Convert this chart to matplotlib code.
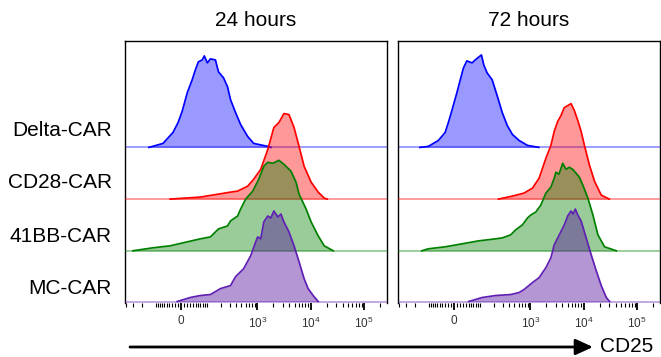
import matplotlib
matplotlib.use("Agg")
import matplotlib.pyplot as plt
from matplotlib.patches import FancyArrowPatch

plt.rcParams['font.family'] = ['Liberation Sans', 'DejaVu Sans']
plt.rcParams['mathtext.fontset'] = 'custom'
plt.rcParams['mathtext.rm'] = 'Liberation Sans'
plt.rcParams['mathtext.default'] = 'regular'

# CD25 histograms, heights normalised to mode (peak ~ 90)
timepoints = ['24 hours', '72 hours']
constructs = ['Delta-CAR', 'CD28-CAR', '41BB-CAR', 'MC-CAR']

# 24 hours
delta_24_x = [-141, -65, -27, -10, 3, 20, 37, 49, 61, 78, 88, 104, 122, 156, 180, 227, 272, 311, 389, 485, 659, 856, 1577, 1796]
delta_24_y = [0, 4, 15, 25, 36, 55, 68, 78, 86, 88, 92, 85, 89, 88, 76, 70, 61, 48, 35, 23, 11, 4, 1, 0]
cd28_24_x = [-37, 69, 311, 425, 659, 856, 1162, 1577, 2047, 2543, 3163, 3930, 4886, 6071, 7545, 10234, 13870, 18000, 20500]
cd28_24_y = [0, 2, 7, 8, 13, 20, 30, 50, 72, 77, 86, 85, 72, 53, 33, 17, 7, 1, 0]
bb41_24_x = [-298, -116, -37, 20, 69, 122, 180, 272, 311, 425, 485, 604, 820, 1066, 1325, 1577, 1960, 2543, 3163, 4286, 5329, 6071, 8230, 10234, 13870, 18000, 26600]
bb41_24_y = [0, 3, 5, 9, 12, 14, 22, 25, 30, 35, 42, 52, 60, 72, 85, 89, 88, 91, 87, 80, 69, 57, 42, 29, 15, 5, 0]
mc_24_x = [-13, 30, 69, 122, 198, 311, 389, 553, 751, 934, 1021, 1162, 1325, 1577, 1796, 2047, 2436, 2774, 3163, 3930, 4886, 6071, 7545, 8975, 11160, 13870]
mc_24_y = [0, 4, 6, 7, 13, 16, 25, 33, 46, 60, 65, 63, 80, 86, 84, 91, 85, 88, 80, 70, 56, 40, 23, 13, 6, 0]

# 72 hours
delta_72_x = [-156, -102, -55, -30, -19, -7.5, 8.8, 20, 31, 43, 64, 78, 110, 124, 146, 186, 234, 294, 367, 460, 614, 885, 1445]
delta_72_y = [0, 1, 7, 15, 25, 37, 55, 68, 80, 87, 85, 88, 93, 83, 75, 68, 52, 35, 22, 13, 7, 2, 0]
cd28_72_x = [248, 460, 761, 1098, 1463, 1960, 2436, 2811, 3258, 3764, 4342, 5036, 5810, 6710, 7780, 8975, 10370, 12880, 16000, 21400, 30300]
cd28_72_y = [0, 3, 6, 11, 21, 41, 54, 68, 78, 84, 92, 94, 96, 89, 79, 68, 54, 34, 18, 4, 0]
bb41_72_x = [-143, -102, -30, 26, 95, 217, 294, 425, 529, 709, 885, 1021, 1269, 1577, 1960, 2436, 2811, 3026, 3450, 4054, 4676, 5400, 6205, 7225, 8335, 9670, 12020, 14930, 18550, 24700, 41100]
bb41_72_y = [0, 2, 4, 7, 10, 12, 13, 16, 21, 26, 33, 36, 39, 46, 58, 64, 73, 79, 77, 88, 82, 84, 82, 78, 74, 66, 53, 36, 16, 4, 0]
mc_72_x = [50, 114, 217, 425, 614, 761, 1098, 1463, 1960, 2436, 2811, 3495, 4342, 5036, 5810, 6340, 7005, 7780, 8975, 11160, 13870, 17230, 21400, 26600, 30700]
mc_72_y = [0, 4, 6, 7, 9, 12, 19, 24, 34, 44, 57, 67, 77, 86, 91, 88, 93, 87, 81, 64, 47, 31, 16, 4, 0]

panels = [
    [(delta_24_x, delta_24_y), (cd28_24_x, cd28_24_y), (bb41_24_x, bb41_24_y), (mc_24_x, mc_24_y)],
    [(delta_72_x, delta_72_y), (cd28_72_x, cd28_72_y), (bb41_72_x, bb41_72_y), (mc_72_x, mc_72_y)],
]

line_colors = ['#0000FF', '#FF0000', '#008000', '#6020B4']
fill_colors = ['#0000FF', '#FF0000', '#008000', '#58169F']
fill_alpha = [0.4, 0.4, 0.4, 0.45]
offsets = [155, 103, 51, 0]

major_ticks = [0, 1e3, 1e4, 1e5]
major_labels = ['0', '$10^3$', '$10^4$', '$10^5$']
minor_ticks = ([-m * 100 for m in range(1, 5)] + [-m * 10 for m in range(1, 10)]
               + [m * 10 ** k for k in range(1, 5) for m in range(1, 10)]
               + [2e5])

fig = plt.figure(figsize=(6.61, 3.57), dpi=100)
W, H = 661, 357

for p, lefts in enumerate([125, 398]):
    ax = fig.add_axes([lefts / W, 1 - 303 / H, 262 / W, 262 / H])
    ax.set_xscale('asinh', linear_width=75)
    for i, (xs, ys) in enumerate(panels[p]):
        base = offsets[i]
        top = [base + v for v in ys]
        ax.fill_between(xs, base, top, color=fill_colors[i], alpha=fill_alpha[i],
                        lw=0, zorder=2 + i)
        ax.plot(xs, top, color=line_colors[i], lw=1.25, zorder=2 + i)
        ax.axhline(base, color=line_colors[i], alpha=0.45, lw=1.2, zorder=2 + i)
    ax.set_xlim(-420, 270000)
    ax.set_ylim(-1.5, 262)
    ax.set_yticks([])
    ax.set_xticks(major_ticks)
    ax.set_xticklabels(major_labels)
    ax.set_xticks(minor_ticks, minor=True)
    ax.tick_params(axis='x', which='major', length=5, width=1.3, pad=4,
                   labelsize=8.5, labelcolor='#333333')
    ax.tick_params(axis='x', which='minor', length=3, width=0.8)
    for side in ['top', 'left', 'right']:
        ax.spines[side].set_linewidth(1.0)
    ax.spines['bottom'].set_visible(False)
    ax.text(0.5, 1.08, timepoints[p], transform=ax.transAxes,
            ha='center', va='center', fontsize=15)

for name, yc in zip(constructs, [130, 183, 236, 289]):
    fig.text(112 / W, 1 - yc / H, name, ha='right', va='center', fontsize=15)

arrow = FancyArrowPatch((130 / W, 1 - 347 / H), (593 / W, 1 - 347 / H),
                        transform=fig.transFigure,
                        arrowstyle='-|>,head_length=1.05,head_width=0.48',
                        mutation_scale=10, lw=2, color='black',
                        shrinkA=0, shrinkB=0)
fig.add_artist(arrow)
fig.text(600 / W, 1 - 347 / H, 'CD25', ha='left', va='center', fontsize=15)

fig.savefig('out.png', dpi=100)
